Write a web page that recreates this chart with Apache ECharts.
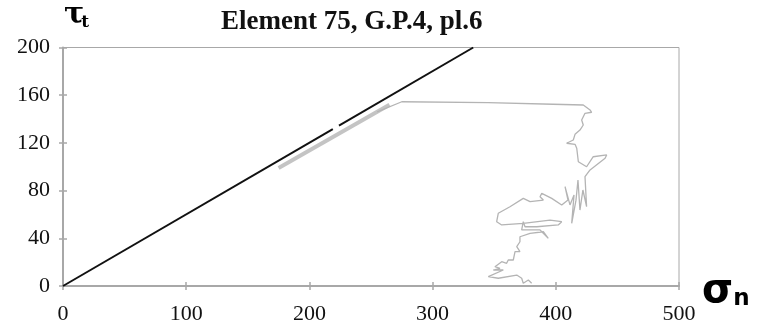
<!DOCTYPE html>
<html>
<head>
<meta charset="utf-8">
<script src="https://cdn.jsdelivr.net/npm/echarts@6/dist/echarts.min.js"></script>
<style>
  html, body { margin: 0; padding: 0; background: #fff; }
  #chart { width: 760px; height: 335px; }
</style>
</head>
<body>
<div id="chart"></div>
<script>
// failure envelope (black), drawn in two pieces because of the small gap
var envelopeLow = [[0, 0], [219, 131.5]];
var envelopeHigh = [[224, 134.5], [333, 200]];

// thick light grey loading part that hugs the envelope
var loadingPath = [[175, 99], [265, 152]];

// thin grey stress path (sigma_n, tau_t)
var stressPath = [
  [255, 146], [275, 154.5], [345, 153.7], [346.6, 152.6], [397.7, 152.4],
  [422.3, 151.8], [427.8, 147.6], [429.1, 145.7], [423.7, 144.8], [421, 139.2],
  [422.3, 135], [419.6, 130.8], [415.6, 127.2], [414.2, 122.4], [408.8, 119.7],
  [415.6, 118.8], [417, 115.5], [418.3, 104.2], [425, 100], [430.4, 108.4],
  [441.3, 109.9], [440, 107.1], [427.8, 97.3], [423.7, 91.7], [425, 66.5],
  [422, 80.5], [419.6, 63.7], [418, 88.9], [416.4, 72], [412.9, 52.6],
  [414.8, 76.3], [411.5, 68], [407.5, 83.3], [409.9, 72.1], [404.8, 67.9],
  [396.7, 73.5], [388.6, 77.7], [387.2, 74.9], [389.9, 72.1], [379.1, 70.7],
  [373.6, 73.5], [362.8, 66.5], [353.3, 61], [352, 53.9], [356.1, 51.2],
  [373.6, 52.6], [395.3, 55.3], [404.8, 53.9], [402, 51.2], [384.5, 49.7],
  [375, 49.7], [373.6, 53.9], [372.3, 47], [387.2, 47], [393.9, 40],
  [389.9, 45.5], [379.1, 44.2], [370.9, 41.3], [370.9, 37.1], [368.3, 33],
  [370.9, 28.8], [366.9, 28.8], [365.5, 21.8], [361.4, 21.8], [360.1, 19],
  [356.1, 20.4], [350.6, 16.2], [354.7, 14.8], [349.3, 13.4], [357.4, 13.4],
  [345.2, 7.8], [353.3, 6.5], [368.3, 9.2], [372.3, 6.5], [373.6, 2.3],
  [377.7, 5], [380.4, 2.3]
];

var sigmaRange = [0, 500, 100];
var tauRange = [0, 200, 40];

var chart = echarts.init(document.getElementById('chart'), null, { renderer: 'canvas' });

var serif = 'Liberation Serif';
var axisGrey = '#a8a8a8';

function lineSeries(data, color, width) {
  return {
    type: 'line',
    data: data,
    showSymbol: false,
    symbol: 'none',
    silent: true,
    lineStyle: { color: color, width: width },
    xAxisIndex: 0,
    yAxisIndex: 0
  };
}

var option = {
  animation: false,
  backgroundColor: '#fff',
  title: {
    text: 'Element 75, G.P.4, pl.6',
    left: 216,
    top: 4,
    textStyle: { fontFamily: serif, fontWeight: 'bold', fontSize: 27, color: '#111' }
  },
  grid: {
    left: 63, right: 81, top: 47.5, bottom: 49,
    show: true, borderColor: axisGrey, borderWidth: 1, backgroundColor: 'transparent'
  },
  xAxis: [{
    type: 'value',
    min: sigmaRange[0], max: sigmaRange[1], interval: sigmaRange[2],
    axisLine: { show: true, lineStyle: { color: axisGrey, width: 2 } },
    axisTick: { show: true, length: 4, lineStyle: { color: axisGrey, width: 1.5 } },
    splitLine: { show: false },
    axisLabel: { margin: 17, fontFamily: serif, fontSize: 22, color: '#111' }
  }, {
    type: 'value', position: 'bottom',
    min: sigmaRange[0], max: sigmaRange[1], interval: sigmaRange[2],
    axisLine: { show: false },
    axisTick: { show: true, inside: true, length: 4, lineStyle: { color: axisGrey, width: 1.5 } },
    axisLabel: { show: false },
    splitLine: { show: false }
  }],
  yAxis: [{
    type: 'value',
    min: tauRange[0], max: tauRange[1], interval: tauRange[2],
    axisLine: { show: true, lineStyle: { color: axisGrey, width: 2 } },
    axisTick: { show: true, length: 4, lineStyle: { color: axisGrey, width: 1.5 } },
    splitLine: { show: false },
    axisLabel: { margin: 13, fontFamily: serif, fontSize: 22, color: '#111', padding: [6, 0, 0, 0] }
  }, {
    type: 'value', position: 'left',
    min: tauRange[0], max: tauRange[1], interval: tauRange[2],
    axisLine: { show: false },
    axisTick: { show: true, inside: true, length: 4, lineStyle: { color: axisGrey, width: 1.5 } },
    axisLabel: { show: false },
    splitLine: { show: false }
  }],
  graphic: [{
    type: 'text', left: 64, top: 0, silent: true,
    style: {
      text: '{a|τ}{b|t}',
      rich: {
        a: { fontFamily: 'DejaVu Serif', fontWeight: 'bold', fontSize: 30, fill: '#000' },
        b: { fontFamily: 'DejaVu Serif', fontWeight: 'bold', fontSize: 17, fill: '#000', padding: [16, 0, 0, -3] }
      }
    }
  }, {
    type: 'text', left: 702, top: 272, silent: true,
    style: {
      text: '{a|σ}{b|n}',
      rich: {
        a: { fontFamily: 'DejaVu Sans', fontWeight: 'bold', fontSize: 40, fill: '#000' },
        b: { fontFamily: 'DejaVu Sans', fontWeight: 'bold', fontSize: 23, fill: '#000', padding: [15, 0, 0, 0] }
      }
    }
  }],
  series: [
    lineSeries(loadingPath, '#c4c4c4', 4),
    lineSeries(stressPath, '#b4b4b4', 1.3),
    lineSeries(envelopeLow, '#111', 2),
    lineSeries(envelopeHigh, '#111', 2)
  ]
};

chart.setOption(option);
</script>
</body>
</html>
